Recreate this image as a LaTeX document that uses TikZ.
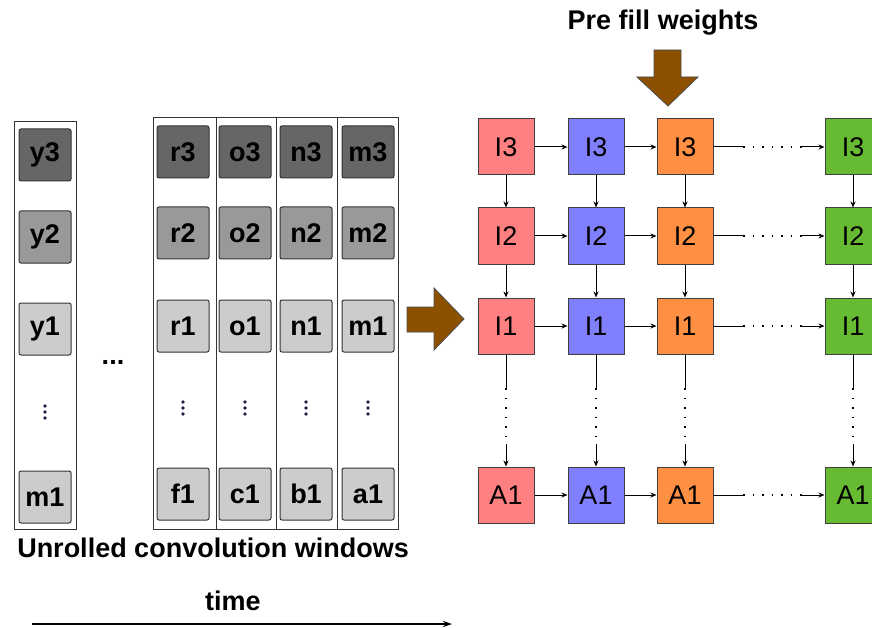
\documentclass[tikz,border=0pt]{standalone}
\usepackage{fontspec}
\setmainfont{Liberation Sans}
\usetikzlibrary{arrows.meta,calc}
\definecolor{dkgray}{RGB}{102,102,102}
\definecolor{mdgray}{RGB}{153,153,153}
\definecolor{ltgray}{RGB}{204,204,204}
\definecolor{cred}{RGB}{255,128,128}
\definecolor{cblue}{RGB}{128,128,255}
\definecolor{corange}{RGB}{255,143,66}
\definecolor{cgreen}{RGB}{102,187,51}
\definecolor{brown}{RGB}{140,80,0}
\definecolor{dotblue}{RGB}{30,30,70}
\tikzset{
  cell/.style={rectangle, rounded corners=2pt, draw=black!80, line width=1pt,
    minimum width=52, minimum height=52, inner sep=0pt,
    font=\fontsize{27}{30}\selectfont\bfseries},
  gbox/.style={rectangle, draw=black!75, line width=1pt,
    minimum width=56, minimum height=56, inner sep=0pt,
    font=\fontsize{27}{30}\selectfont},
  frame/.style={draw=black!80, line width=1pt},
  conn/.style={line width=1pt, -{Stealth[length=6pt,width=5pt]}},
  plain/.style={line width=1pt},
  dotc/.style={line width=1.2pt, dash pattern=on 1.5pt off 8pt},
  big/.style={font=\fontsize{27}{30}\selectfont\bfseries},
  vdot/.style={fill=dotblue},
  barrow/.style={fill=brown, draw=black!70, line width=0.8pt},
}
\begin{document}
\begin{tikzpicture}[x=1pt,y=-1pt]
\useasboundingbox (0,0) rectangle (872,628);
\clip (0,0) rectangle (872,628);
% outer frames
\draw[frame] (14,122) rectangle (76,529);
\draw[frame] (153,118) rectangle (216,529);
\draw[frame] (216,118) rectangle (276,529);
\draw[frame] (276,118) rectangle (337,529);
\draw[frame] (337,118) rectangle (398,529);
% left column
\node[cell, fill=dkgray] (y3) at (45,155) {y3};
\node[cell, fill=mdgray] (y2) at (45,237) {y2};
\node[cell, fill=ltgray] (y1) at (45,329) {y1};
\foreach \dy in {-6,0,6} \fill[vdot] (45,412+\dy) circle (1.8);
\node[cell, fill=ltgray] (ym) at (45,497) {m1};
\node[big] (ell) at (113,362) {...};
% right group
\foreach \c/\x/\a/\b/\d/\e in {r/183/r3/r2/r1/f1, o/245/o3/o2/o1/c1, n/306/n3/n2/n1/b1, m/368/m3/m2/m1/a1}{
  \node[cell, fill=dkgray] (\c3) at (\x,152) {\a};
  \node[cell, fill=mdgray] (\c2) at (\x,233) {\b};
  \node[cell, fill=ltgray] (\c1) at (\x,326) {\d};
  \foreach \dy in {-6,0,6} \fill[vdot] (\x,408+\dy) circle (1.8);
  \node[cell, fill=ltgray] (\c0) at (\x,494) {\e};
}
% texts
\node[big] (pfw) at (663,23) {Pre fill weights};
\node[big] (ucw) at (213,548) {Unrolled convolution windows};
\node[big] (tim) at (233,601) {time};
\coordinate (t0) at (32,624);
\coordinate (t1) at (452,624);
\draw[line width=1.2pt, -{Stealth[length=9pt,width=6pt]}] (t0) -- (t1);
% brown arrows
\draw[barrow] (407,307) -- (434,307) -- (434,288) -- (464,319) -- (434,350) -- (434,332) -- (407,332) -- cycle;
\draw[barrow] (654,50) -- (681,50) -- (681,77) -- (698,77) -- (668,106) -- (637,77) -- (654,77) -- cycle;
% grid
\foreach \c/\x/\col in {A/506/cred, B/596/cblue, C/685/corange, D/853/cgreen}{
  \node[gbox, fill=\col] (\c3) at (\x,147) {I3};
  \node[gbox, fill=\col] (\c2) at (\x,236) {I2};
  \node[gbox, fill=\col] (\c1) at (\x,326) {I1};
  \node[gbox, fill=\col] (\c0) at (\x,495) {A1};
}
% horizontal connectors
\foreach \r in {3,2,1,0}{
  \draw[conn] (A\r) -- (B\r);
  \draw[conn] (B\r) -- (C\r);
  \path (C\r.east) -- (D\r.west) coordinate[pos=0.27] (h\r a) coordinate[pos=0.8] (h\r b);
  \draw[plain] (C\r.east) -- (h\r a);
  \draw[dotc] (h\r a) -- (h\r b);
  \draw[conn] (h\r b) -- (D\r.west);
}
% vertical connectors
\foreach \c in {A,B,C,D}{
  \draw[conn] (\c3) -- (\c2);
  \draw[conn] (\c2) -- (\c1);
  \path (\c1.south) -- (\c0.north) coordinate[pos=0.3] (v\c a) coordinate[pos=0.8] (v\c b);
  \draw[plain] (\c1.south) -- (v\c a);
  \draw[dotc] (v\c a) -- (v\c b);
  \draw[conn] (v\c b) -- (\c0.north);
}
\end{tikzpicture}
\end{document}
